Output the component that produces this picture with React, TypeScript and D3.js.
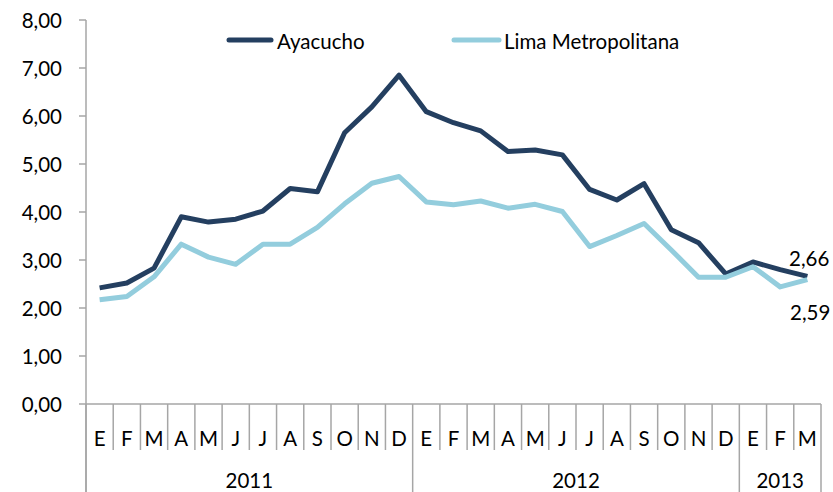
import React from "react";
import * as d3 from "d3";

const months = ["E","F","M","A","M","J","J","A","S","O","N","D","E","F","M","A","M","J","J","A","S","O","N","D","E","F","M"];
const years = [
  { label: "2011", start: 0, end: 12 },
  { label: "2012", start: 12, end: 24 },
  { label: "2013", start: 24, end: 27 },
];
const ayacucho = [2.42,2.52,2.83,3.90,3.79,3.85,4.02,4.49,4.42,5.65,6.19,6.85,6.09,5.86,5.69,5.26,5.29,5.19,4.47,4.25,4.59,3.63,3.36,2.71,2.96,2.80,2.66];
const lima = [2.17,2.24,2.65,3.33,3.06,2.91,3.33,3.33,3.68,4.17,4.60,4.74,4.21,4.15,4.23,4.08,4.16,4.01,3.28,3.51,3.76,3.21,2.64,2.64,2.86,2.44,2.59];
const yTicks = [0,1,2,3,4,5,6,7,8];
const seriesNames = ["Ayacucho", "Lima Metropolitana"];
const colors = ["#243F60", "#93CDDD"];

const W = 833, H = 492;
const left = 86, right = 821, top = 20, bottom = 404;
const font = "Lato, 'Open Sans', sans-serif";
const fs = 20.5;

export default function App() {
  const x = d3.scaleBand<number>().domain(d3.range(months.length)).range([left, right]).paddingInner(0).paddingOuter(0);
  const y = d3.scaleLinear().domain([0, 8]).range([bottom, top]);
  const fmt = (v: number) => v.toFixed(2).replace(".", ",");
  const cx = (i: number) => (x(i) as number) + x.bandwidth() / 2;
  const line = d3.line<number>().x((_, i) => cx(i)).y((d) => y(d));
  const edge = (i: number) => left + i * x.bandwidth();
  const axisColor = "#A6A6A6";
  const last = months.length - 1;

  return (
    <svg width={W} height={H} style={{ position: "absolute", left: 0, top: 0, background: "#fff" }}>
      {/* y axis */}
      <line x1={left} x2={left} y1={top} y2={H} stroke={axisColor} strokeWidth={1.5} />
      {yTicks.map((t) => (
        <g key={t}>
          <line x1={left - 7} x2={left} y1={y(t)} y2={y(t)} stroke={axisColor} strokeWidth={1.5} />
          <text x={62} y={y(t)} textAnchor="end" dominantBaseline="central" fontFamily={font} fontSize={fs} fill="#000">{fmt(t)}</text>
        </g>
      ))}
      {/* x axis */}
      <line x1={left} x2={right} y1={bottom} y2={bottom} stroke={axisColor} strokeWidth={1.5} />
      {d3.range(months.length + 1).map((i) => (
        <line key={i} x1={edge(i)} x2={edge(i)} y1={bottom} y2={years.some((yy) => yy.start === i || yy.end === i) ? H : 450} stroke={axisColor} strokeWidth={1.5} />
      ))}
      {months.map((m, i) => (
        <text key={i} x={cx(i)} y={438} textAnchor="middle" dominantBaseline="central" fontFamily={font} fontSize={fs} fill="#000">{m}</text>
      ))}
      {years.map((yy) => (
        <text key={yy.label} x={(edge(yy.start) + edge(yy.end)) / 2} y={488} textAnchor="middle" fontFamily={font} fontSize={fs} fill="#000">{yy.label}</text>
      ))}
      {/* lines */}
      <path d={line(ayacucho) || ""} fill="none" stroke={colors[0]} strokeWidth={5} strokeLinejoin="round" />
      <path d={line(lima) || ""} fill="none" stroke={colors[1]} strokeWidth={5} strokeLinejoin="round" />
      {/* end labels */}
      <text x={cx(last) + 22} y={y(ayacucho[last]) - 18} textAnchor="end" dominantBaseline="central" fontFamily={font} fontSize={fs} fill="#000">{fmt(ayacucho[last])}</text>
      <text x={cx(last) + 23} y={y(lima[last]) + 32} textAnchor="end" dominantBaseline="central" fontFamily={font} fontSize={fs} fill="#000">{fmt(lima[last])}</text>
      {/* legend */}
      <line x1={229} x2={271} y1={40} y2={40} stroke={colors[0]} strokeWidth={5} strokeLinecap="round" />
      <text x={277} y={41} dominantBaseline="central" fontFamily={font} fontSize={fs} fill="#000">{seriesNames[0]}</text>
      <line x1={454} x2={499} y1={40} y2={40} stroke={colors[1]} strokeWidth={5} strokeLinecap="round" />
      <text x={504} y={41} dominantBaseline="central" fontFamily={font} fontSize={fs} fill="#000">{seriesNames[1]}</text>
    </svg>
  );
}
